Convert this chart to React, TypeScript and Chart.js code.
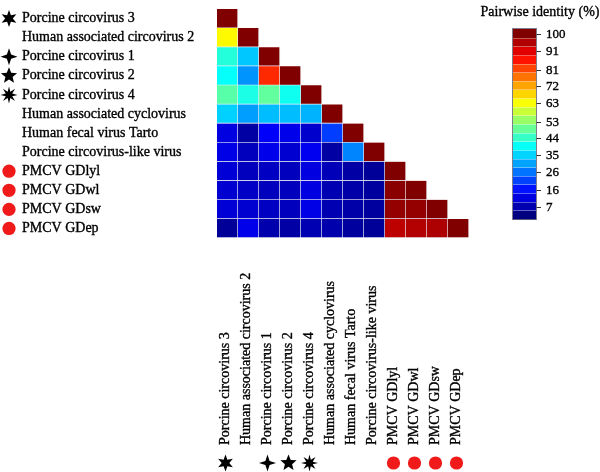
import React, { useEffect, useRef } from "react";
import { Chart, registerables } from "chart.js";

Chart.register(...registerables);

// ---------- data ----------
const virusNames = [
  "Porcine circovirus 3",
  "Human associated circovirus 2",
  "Porcine circovirus 1",
  "Porcine circovirus 2",
  "Porcine circovirus 4",
  "Human associated cyclovirus",
  "Human fecal virus Tarto",
  "Porcine circovirus-like virus",
  "PMCV GDlyl",
  "PMCV GDwl",
  "PMCV GDsw",
  "PMCV GDep",
];

// lower-triangular pairwise identity (%), one array per row
const idPCV3 = [100];
const idHAC2 = [63, 100];
const idPCV1 = [41, 32, 100];
const idPCV2 = [38, 27, 83.5, 100];
const idPCV4 = [46, 40, 47, 39, 100];
const idHACyV = [33, 28, 31, 31, 30, 100];
const idHFVT = [9.5, 3.5, 12, 10.5, 7.5, 18.5, 100];
const idPCLV = [10, 6, 10.5, 8, 11, 3.5, 25.5, 100];
const idGDlyl = [8.5, 6, 6.5, 6, 9.5, 5.5, 3.7, 2.5, 100];
const idGDwl = [8, 7, 6, 6, 9.5, 5, 4, 3, 99, 100];
const idGDsw = [8.5, 8, 6.5, 6, 10, 5, 4, 3, 98, 98, 100];
const idGDep = [2.5, 10.5, 4.5, 3.7, 5, 4.5, 3, 2.5, 94, 95, 95.5, 100];

const identityRows = [
  idPCV3, idHAC2, idPCV1, idPCV2, idPCV4, idHACyV,
  idHFVT, idPCLV, idGDlyl, idGDwl, idGDsw, idGDep,
];

const rowMarkers = [
  "star6", null, "star4", "star5", "star8", null, null, null,
  "dot", "dot", "dot", "dot",
];

const colorbarTicks = [100, 91, 81, 72, 63, 53, 44, 35, 26, 16, 7];
const colorbarExtent = [0.54, 102.85];
const colorbarBands = 22;
const colorbarTitle = "Pairwise identity (%)";

// ---------- helpers ----------
function clamp01(v: number) {
  return Math.max(0, Math.min(1, v));
}
function jet(t: number) {
  t = clamp01(t);
  const r = clamp01(Math.min(4 * t - 1.5, -4 * t + 4.5));
  const g = clamp01(Math.min(4 * t - 0.5, -4 * t + 3.5));
  const b = clamp01(Math.min(4 * t + 0.5, -4 * t + 2.5));
  return `rgb(${Math.round(r * 255)},${Math.round(g * 255)},${Math.round(b * 255)})`;
}
function valueColor(v: number) {
  return jet(v / 100);
}

function drawStar(ctx: CanvasRenderingContext2D, cx: number, cy: number, n: number, R: number, r: number, rot: number) {
  ctx.beginPath();
  for (let k = 0; k < 2 * n; k++) {
    const rad = k % 2 === 0 ? R : r;
    const a = rot + (k * Math.PI) / n - Math.PI / 2;
    const px = cx + rad * Math.cos(a);
    const py = cy + rad * Math.sin(a);
    if (k === 0) ctx.moveTo(px, py);
    else ctx.lineTo(px, py);
  }
  ctx.closePath();
  ctx.fill();
}

function drawMarker(ctx: CanvasRenderingContext2D, kind: string | null, cx: number, cy: number) {
  if (!kind) return;
  ctx.save();
  ctx.fillStyle = "#000";
  if (kind === "star6") drawStar(ctx, cx, cy, 6, 8.5, 3.8, 0);
  else if (kind === "star4") drawStar(ctx, cx, cy, 4, 8.5, 3.0, 0);
  else if (kind === "star5") drawStar(ctx, cx, cy, 5, 8.5, 3.8, 0);
  else if (kind === "star8") drawStar(ctx, cx, cy, 8, 8.5, 3.5, 0);
  else if (kind === "dot") {
    ctx.fillStyle = "#f01a1a";
    ctx.beginPath();
    ctx.arc(cx, cy, 6.6, 0, Math.PI * 2);
    ctx.fill();
  }
  ctx.restore();
}

const FONT = '"Liberation Serif", "Times New Roman", serif';

function heavyText(ctx: CanvasRenderingContext2D, s: string, x: number, y: number) {
  ctx.fillText(s, x, y);
  ctx.lineWidth = 0.35;
  ctx.strokeStyle = "#000";
  ctx.strokeText(s, x, y);
}

const overlayPlugin = {
  id: "overlay",
  afterDatasetsDraw(chart: any) {
    const ctx: CanvasRenderingContext2D = chart.ctx;
    const xs = chart.scales.x;
    const ys = chart.scales.y;
    const cb = chart.scales.cb;
    ctx.save();
    ctx.fillStyle = "#000";
    ctx.font = `14px ${FONT}`;
    ctx.textBaseline = "middle";
    ctx.textAlign = "left";
    virusNames.forEach((name, i) => {
      const y = ys.getPixelForValue(i);
      ctx.fillStyle = "#000";
      heavyText(ctx, name, 22, y);
      drawMarker(ctx, rowMarkers[i], 9, y);
      const x = xs.getPixelForValue(i) - 2;
      ctx.save();
      ctx.translate(x, 445);
      ctx.rotate(-Math.PI / 2);
      ctx.fillStyle = "#000";
      heavyText(ctx, name, 0, 0);
      ctx.restore();
      drawMarker(ctx, rowMarkers[i], x, 463);
    });

    // colorbar
    const x0 = 513;
    const x1 = 536;
    const w = (colorbarExtent[1] - colorbarExtent[0]) / colorbarBands;
    for (let i = 0; i < colorbarBands; i++) {
      const lo = colorbarExtent[0] + i * w;
      const top = cb.getPixelForValue(lo + w);
      const bot = cb.getPixelForValue(lo);
      ctx.fillStyle = jet(i / (colorbarBands - 1));
      ctx.fillRect(x0, top, x1 - x0, bot - top + 0.5);
    }
    ctx.strokeStyle = "rgba(255,255,255,0.35)";
    ctx.lineWidth = 1;
    for (let i = 1; i < colorbarBands; i++) {
      const yy = Math.round(cb.getPixelForValue(colorbarExtent[0] + i * w)) + 0.5;
      ctx.beginPath();
      ctx.moveTo(x0, yy);
      ctx.lineTo(x1, yy);
      ctx.stroke();
    }
    const topY = cb.getPixelForValue(colorbarExtent[1]);
    const botY = cb.getPixelForValue(colorbarExtent[0]);
    ctx.strokeStyle = "rgba(70,70,90,0.7)";
    ctx.lineWidth = 1;
    ctx.strokeRect(x0 - 0.5, topY - 0.5, x1 - x0 + 1, botY - topY + 1);

    ctx.fillStyle = "#000";
    ctx.font = `13px ${FONT}`;
    ctx.textAlign = "left";
    colorbarTicks.forEach((v) => {
      const yy = Math.round(cb.getPixelForValue(v)) + 0.5;
      ctx.strokeStyle = "#333";
      ctx.lineWidth = 1;
      ctx.beginPath();
      ctx.moveTo(x1 + 0.5, yy);
      ctx.lineTo(x1 + 5, yy);
      ctx.stroke();
      heavyText(ctx, String(v), 546, yy);
    });

    ctx.font = `14px ${FONT}`;
    ctx.textAlign = "center";
    heavyText(ctx, colorbarTitle, 540, 12.5);
    ctx.restore();
  },
};

export default function App() {
  const ref = useRef<HTMLCanvasElement | null>(null);
  useEffect(() => {
    document.body.style.margin = "0";
    document.body.style.overflow = "hidden";
    const cells: { x: string; y: number[]; v: number }[] = [];
    identityRows.forEach((row, r) => {
      row.forEach((v, c) => {
        cells.push({ x: virusNames[c], y: [r - 0.5, r + 0.5], v });
      });
    });
    const chart = new Chart(ref.current as HTMLCanvasElement, {
      type: "bar",
      data: {
        labels: virusNames,
        datasets: [
          {
            data: cells.map((c) => ({ x: c.x, y: c.y })) as any,
            backgroundColor: cells.map((c) => valueColor(c.v)),
            borderColor: "#ececf2",
            borderWidth: { top: 0, left: 0, right: 1, bottom: 1 } as any,
            borderSkipped: false,
            barPercentage: 1,
            categoryPercentage: 1,
            xAxisID: "x",
            yAxisID: "y",
          },
        ],
      },
      options: {
        responsive: false,
        animation: false,
        devicePixelRatio: 1,
        layout: { padding: { left: 217, right: 131, top: 9, bottom: 234 } },
        plugins: {
          legend: { display: false },
          tooltip: { enabled: false },
          title: { display: false },
        },
        scales: {
          x: { type: "category", offset: true, display: false },
          y: { type: "linear", reverse: true, min: -0.5, max: 11.5, display: false },
          cb: { type: "linear", axis: "y", position: "right", min: -9.69, max: 113.62, display: false },
        } as any,
      },
      plugins: [overlayPlugin],
    });
    return () => chart.destroy();
  }, []);
  return <canvas ref={ref} width={600} height={472} style={{ display: "block" }} />;
}
